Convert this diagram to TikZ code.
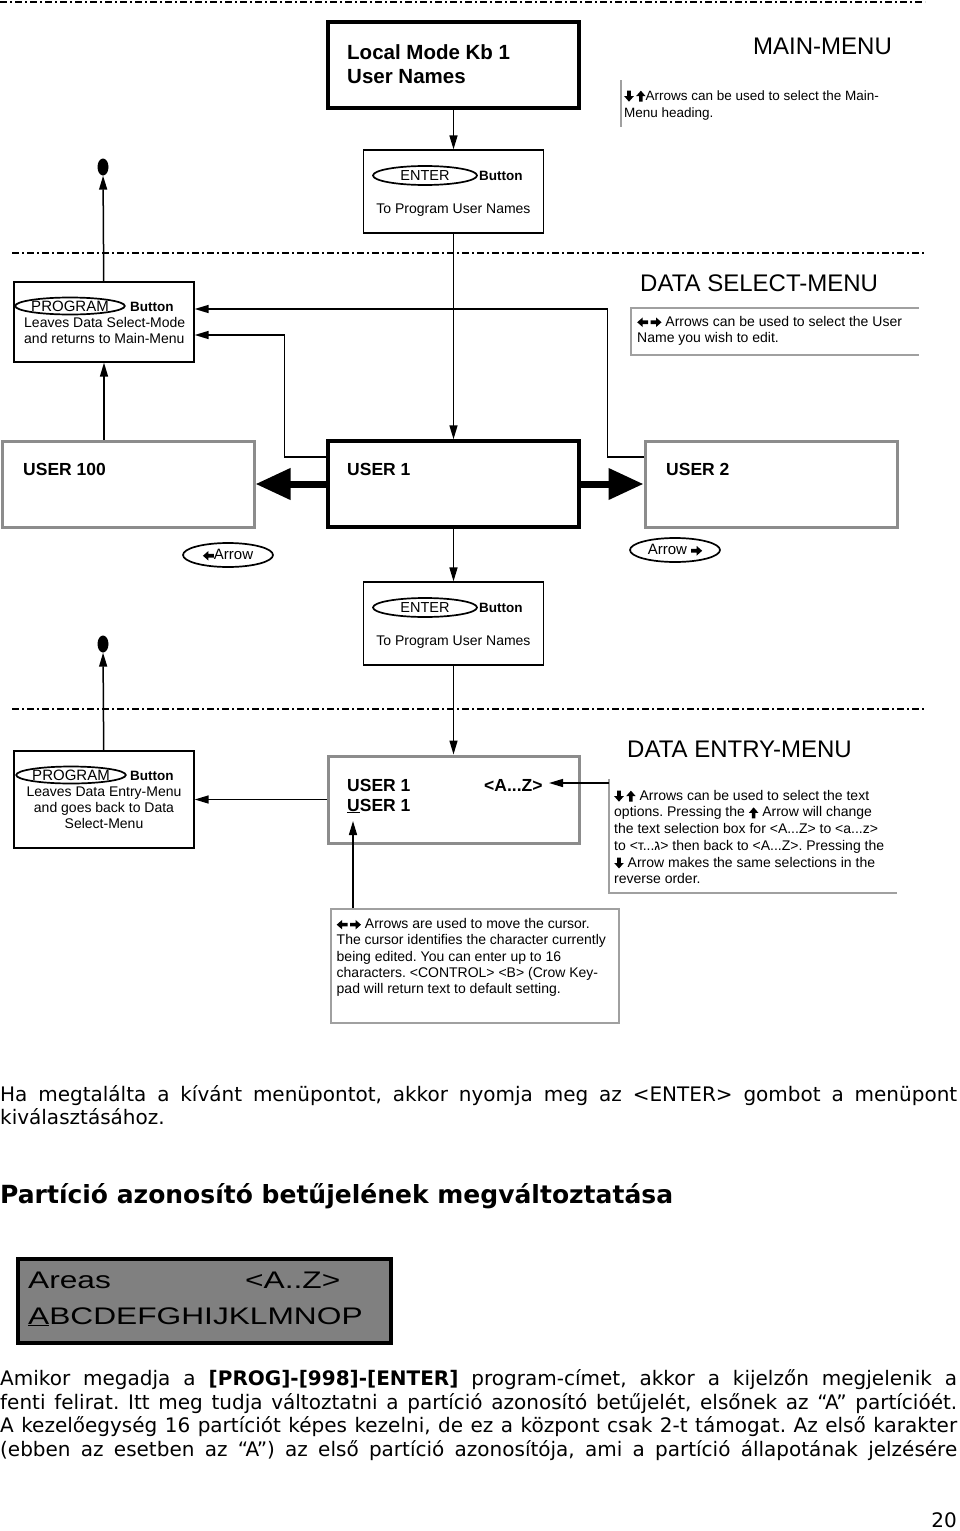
\documentclass[tikz,border=0pt]{standalone}
\usepackage{fontspec}
\setmainfont{Liberation Sans}
\newfontfamily\bodyfont{DejaVu Sans}
\newfontfamily\lcdfont[FakeStretch=1.32]{Liberation Sans}
\usetikzlibrary{arrows.meta,positioning,shapes.geometric}
\definecolor{frameGrey}{RGB}{140,140,140}
\definecolor{noteGrey}{RGB}{160,160,160}
\definecolor{lcdGrey}{RGB}{128,128,128}
\newcommand{\fsz}[2]{\fontsize{#1}{#2}\selectfont}
% small block arrows used inside the texts
\newcommand{\blockarr}[1]{\tikz[baseline=-4pt,x=1pt,y=1pt,rotate=#1]
  \fill (-5.5,-1.8) -- (0,-1.8) -- (0,-4.8) -- (5.5,0) -- (0,4.8) -- (0,1.8) -- (-5.5,1.8) -- cycle;}
\newcommand{\arrR}{\blockarr{0}}
\newcommand{\arrL}{\blockarr{180}}
\newcommand{\arrU}{\blockarr{90}}
\newcommand{\arrD}{\blockarr{-90}}
\frenchspacing

\begin{document}
\begin{tikzpicture}[x=1pt,y=-1pt,
    frame/.style={draw,line width=1.3pt,inner sep=0pt,minimum width=180pt},
    heavy/.style={draw,line width=3.5pt,inner sep=0pt,minimum width=251pt,minimum height=86pt},
    dim/.style={draw=frameGrey,line width=3pt,inner sep=0pt,minimum width=252pt,minimum height=86pt},
    notebox/.style={draw=noteGrey,line width=1.2pt,inner sep=0pt},
    noteline/.style={draw=noteGrey,line width=1.2pt},
    btn/.style={ellipse,draw,line width=1.7pt,inner sep=0pt,font=\fsz{14.5}{16}},
    endpt/.style={ellipse,fill,minimum width=11pt,minimum height=17pt,inner sep=0pt},
    lbl/.style={anchor=base west,inner sep=0pt},
    hdr/.style={lbl,font=\fsz{24}{28}},
    ubig/.style={lbl,font=\bfseries\fsz{17.5}{20}},
    bttn/.style={lbl,font=\bfseries\fsz{13.5}{16}},
    note/.style={anchor=north west,inner sep=0pt,align=left,font=\fsz{14}{16.5}},
    body/.style={anchor=north west,inner sep=0pt,align=left,font=\bodyfont\fsz{20}{23.5}},
    conn/.style={-{Triangle[length=14pt,width=8pt]},line width=1.5pt},
    fatarrow/.style={-{Triangle[length=35pt,width=30pt]},line width=7pt},
    sep/.style={line width=1.3pt,dash pattern=on 7pt off 3pt on 2pt off 3pt}]

  \useasboundingbox (0,0) rectangle (960,1531);

  % separators between the menus
  \draw[sep] (0,2) -- (925,2);
  \draw[sep] (12,253) -- (925,253);
  \draw[sep] (12,709) -- (925,709);

  % main menu
  \node[heavy] (kb) at (453.5,65) {};
  \node[note,font=\bfseries\fsz{20.5}{24}] (kbtxt) at (347,42.2)
    {\strut Local Mode Kb 1\\User Names};
  \node[hdr] (mainhdr) at (753,54.5) {MAIN-MENU};
  \draw[noteline] (621,80) -- (621,127);
  \node[note,font=\fsz{13.5}{17}] (mainnote) at (624,88.1)
    {\strut\arrD\,\arrU Arrows can be used to select the Main-\\Menu heading.};

  \node[frame,minimum height=83pt] (enter1) at (453.5,191.5) {};
  \node[btn,minimum width=104pt,minimum height=19pt] (enterbtn1) at (425,175.5) {ENTER};
  \node[bttn] (enterlbl1) at (479,180) {Button};
  \node[lbl,anchor=base,font=\fsz{14}{16}] (entertxt1) at (453.5,213) {To Program User Names};
  \draw[conn] (kb) -- (enter1);

  % data select menu
  \node[endpt] (end1) at (103,167) {};
  \node[frame,minimum height=80pt] (prog1) at (104,322) {};
  \node[btn,minimum width=102pt,minimum height=17pt,font=\fsz{15}{16}] (progbtn1) at (70,306) {PROGRAM};
  \node[bttn] (proglbl1) at (130,311) {Button};
  \node[note] (progtxt1) at (24,315.5)
    {\strut Leaves Data Select-Mode\\and returns to Main-Menu};
  \draw[conn] (prog1) -- (end1);

  \node[hdr] (selhdr) at (640,291) {DATA SELECT-MENU};
  \draw[noteline] (919,308) -- (631,308) -- (631,355) -- (919,355);
  \node[note] (selnote) at (637,314.5)
    {\strut\arrL\,\arrR\ Arrows can be used to select the User\\Name you wish to edit.};

  \node[dim] (user100) at (128,484) {};
  \node[heavy] (user1) at (453.5,484) {};
  \node[dim] (user2) at (771,484) {};
  \node[ubig] (u100txt) at (23,475) {USER 100};
  \node[ubig] (u1txt) at (347,475) {USER 1};
  \node[ubig] (u2txt) at (666,475) {USER 2};

  \draw[conn] (enter1) -- (user1);
  \draw[conn] (prog1.south |- user100.north) -- (prog1.south);
  \draw[conn] ([yshift=27pt]user2.west) -- ++(-36,0) |- ([yshift=13pt]prog1.east);
  \draw[conn] ([yshift=27pt]user1.west) -- ++(-42,0) |- ([yshift=-13pt]prog1.east);
  \draw[fatarrow] (user1.west) -- (user100.east);
  \draw[fatarrow] (user1.east) -- (user2.west);

  \node[btn,minimum width=90pt,minimum height=24pt,font=\fsz{15}{17}] (arrowL) at (228,555) {\arrL Arrow};
  \node[btn,minimum width=90pt,minimum height=24pt,font=\fsz{15}{17}] (arrowR) at (675,550) {Arrow \arrR};

  \node[frame,minimum height=83pt] (enter2) at (453.5,623.5) {};
  \node[btn,minimum width=104pt,minimum height=19pt] (enterbtn2) at (425,607.5) {ENTER};
  \node[bttn] (enterlbl2) at (479,612) {Button};
  \node[lbl,anchor=base,font=\fsz{14}{16}] (entertxt2) at (453.5,645) {To Program User Names};
  \draw[conn] (user1) -- (enter2);

  % data entry menu
  \node[endpt] (end2) at (103,644) {};
  \node[frame,minimum height=97pt] (prog2) at (104,799.5) {};
  \node[btn,minimum width=102pt,minimum height=17pt,font=\fsz{15}{16}] (progbtn2) at (71,775) {PROGRAM};
  \node[bttn] (proglbl2) at (130,780) {Button};
  \node[note,anchor=north,align=center,font=\fsz{14}{16}] (progtxt2) at (104,785.5)
    {\strut Leaves Data Entry-Menu\\and goes back to Data\\Select-Menu};
  \draw[conn] (prog2) -- (end2);

  \node[dim,minimum width=251pt,minimum height=87pt] (entry) at (453.5,799.5) {};
  \node[ubig] (e1txt) at (347,791) {USER 1};
  \node[ubig] (az) at (484,791) {<A...Z>};
  \node[ubig] (e2txt) at (347,811) {\underline{U}SER 1};
  \draw[conn] (enter2) -- (entry);
  \draw[conn] (entry.west) -- (prog2.east);

  \node[hdr] (entryhdr) at (627,757.5) {DATA ENTRY-MENU};
  \draw[noteline] (609,779) -- (609,893) -- (897,893);
  \coordinate (n3) at (609,783);
  \coordinate (azpt) at (549,783);
  \draw[conn] (n3) -- (azpt);
  \node[note,font=\fsz{14}{16.7}] (entrynote) at (614,788.3)
    {\strut\arrD\,\arrU\ Arrows can be used to select the text\\
     options. Pressing the \arrU\ Arrow will change\\
     the text selection box for <A...Z> to <a...z>\\
     to <т...ג> then back to <A...Z>. Pressing the\\
     \arrD\ Arrow makes the same selections in the\\
     reverse order.};

  \node[notebox,minimum width=288pt,minimum height=114pt] (cursor) at (475,966) {};
  \node[note,font=\fsz{14}{16.25}] (cursortxt) at (336.5,917.1)
    {\strut\arrL\,\arrR\ Arrows are used to move the cursor.\\
     The cursor identifies the character currently\\
     being edited. You can enter up to 16\\
     characters. <CONTROL> <B> (Crow Key-\\
     pad will return text to default setting.};
  \coordinate (ucur) at (353,821);
  \draw[conn] (cursor.north -| ucur) -- (ucur);

  % text of the page
  \node[body] (found) at (0,1084.5)
    {\strut\makebox[957pt][s]{Ha megtalálta a kívánt menüpontot, akkor nyomja meg az <ENTER> gombot a menüpont}\\
     kiválasztásához.};
  \node[lbl,font=\bodyfont\bfseries\fsz{25}{30}] (title) at (0,1203)
    {Partíció azonosító betűjelének megváltoztatása};

  \node[draw,fill=lcdGrey,line width=4pt,inner sep=0pt,minimum width=373pt,minimum height=84pt] (lcd) at (204.5,1300.5) {};
  \node[lbl,font=\lcdfont\fsz{24}{28}] (lcdareas) at (28,1288) {Areas};
  \node[lbl,font=\lcdfont\fsz{24}{28}] (lcdrange) at (245,1288) {<A..Z>};
  \node[lbl,font=\lcdfont\fsz{24}{28}] (lcdchars) at (28,1324) {\underline{A}BCDEFGHIJKLMNOP};

  \node[body] (prog) at (0,1369)
    {\strut\makebox[957pt][s]{Amikor megadja a \textbf{[PROG]-[998]-[ENTER]} program-címet, akkor a kijelzőn megjelenik a}\\
     \makebox[957pt][s]{fenti felirat. Itt meg tudja változtatni a partíció azonosító betűjelét, elsőnek az “A” partícióét.}\\
     \makebox[957pt][s]{A kezelőegység 16 partíciót képes kezelni, de ez a központ csak 2-t támogat. Az első karakter}\\
     \makebox[957pt][s]{(ebben az esetben az “A”) az első partíció azonosítója, ami a partíció állapotának jelzésére}};
  \node[lbl,anchor=base east,font=\bodyfont\fsz{20}{23.5}] (page) at (957,1527) {20};
\end{tikzpicture}
\end{document}
